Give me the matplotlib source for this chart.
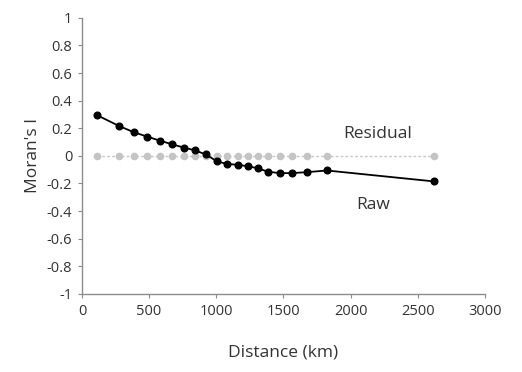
import numpy as np
import matplotlib.pyplot as plt

plt.rcParams['font.family'] = ['Open Sans', 'DejaVu Sans']

# distance classes (km) and Moran's I values
distance = [110, 275, 387, 484, 581, 670, 759, 841, 923, 1005,
            1079, 1161, 1236, 1310, 1385, 1474, 1563, 1675, 1824, 2620]
raw = [0.296, 0.217, 0.171, 0.140, 0.110, 0.084, 0.060, 0.040, 0.010, -0.040,
       -0.058, -0.065, -0.075, -0.090, -0.115, -0.125, -0.125, -0.118, -0.106, -0.185]
residual = [0.0] * len(distance)

yticks = [1, 0.8, 0.6, 0.4, 0.2, 0, -0.2, -0.4, -0.6, -0.8, -1]
xticks = [0, 500, 1000, 1500, 2000, 2500, 3000]

fig = plt.figure(figsize=(5.22, 3.72), dpi=100)
ax = fig.add_axes([0.157, 0.21, 0.772, 0.742])

ax.plot(distance, residual, color='#c8c8c8', lw=1, ls=(0, (2, 1.5)),
        marker='o', ms=4.5, mfc='#c4c4c4', mec='#c4c4c4', zorder=2)
ax.plot(distance, raw, color='black', lw=1.3,
        marker='o', ms=4.8, mfc='black', mec='black', zorder=3)

ax.text(2200, 0.16, 'Residual', fontsize=12.5, color='#333333', ha='center', va='center')
ax.text(2165, -0.355, 'Raw', fontsize=12.5, color='#333333', ha='center', va='center')

ax.set_xlim(0, 3000)
ax.set_ylim(-1, 1)
ax.set_xticks(xticks)
ax.set_yticks(yticks)
ax.set_yticklabels([('%g' % v) for v in yticks])

for s in ['top', 'right']:
    ax.spines[s].set_visible(False)
for s in ['left', 'bottom']:
    ax.spines[s].set_color('#8c8c8c')
    ax.spines[s].set_linewidth(1)
ax.tick_params(colors='#8c8c8c', length=3, labelcolor='#333333', labelsize=10.5)
ax.tick_params(axis='x', pad=4)
ax.tick_params(axis='y', pad=4)

ax.set_xlabel('Distance (km)', fontsize=12.5, color='#333333', labelpad=19)
ax.set_ylabel("Moran's I", fontsize=12.5, color='#333333', labelpad=4)

plt.savefig('out.png', dpi=100)
